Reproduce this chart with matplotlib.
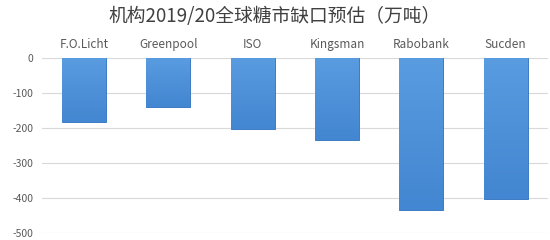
import numpy as np
import matplotlib
matplotlib.use("Agg")
import matplotlib.pyplot as plt
from matplotlib.colors import LinearSegmentedColormap

plt.rcParams['font.family'] = ['Noto Sans CJK SC', 'DejaVu Sans']

# 数据（万吨）
agencies = ['F.O.Licht', 'Greenpool', 'ISO', 'Kingsman', 'Rabobank', 'Sucden']
deficit = [-182, -141, -204, -234, -434, -403]
yticks = [0, -100, -200, -300, -400, -500]

fig = plt.figure(figsize=(5.5, 2.4), dpi=100)
ax = fig.add_axes([0.076, 0.029, 0.92, 0.729])

x = np.arange(len(agencies))
bars = ax.bar(x, deficit, width=0.52, color='#4A8FD9', edgecolor='#3C7CC4',
              linewidth=0.7, zorder=2)

# 柱子渐变（上浅下深）
cmap = LinearSegmentedColormap.from_list('blu', ['#4386D1', '#5A9CE0'])
grad = np.linspace(0, 1, 256).reshape(-1, 1)
for b in bars:
    x0, y0 = b.get_x(), b.get_y()
    w, h = b.get_width(), b.get_height()
    im = ax.imshow(grad, cmap=cmap, aspect='auto', zorder=3,
                   extent=[x0, x0 + w, y0 + h, y0], origin='lower')
    im.set_clip_path(b)

ax.set_xlim(-0.5, len(agencies) - 0.5)
ax.set_ylim(-500, 0)
ax.set_yticks(yticks)
ax.set_yticklabels([str(v) for v in yticks], fontsize=7.5, color='#595959')
ax.xaxis.tick_top()
ax.set_xticks(x)
ax.set_xticklabels(agencies, fontsize=8.5, color='#595959')
ax.tick_params(axis='both', length=0)
ax.tick_params(axis='x', pad=5)
ax.tick_params(axis='y', pad=6)
ax.grid(axis='y', color='#D9D9D9', linewidth=0.8, zorder=0)
for s in ax.spines.values():
    s.set_visible(False)
ax.set_axisbelow(True)

fig.text(0.5, 0.93, '机构2019/20全球糖市缺口预估（万吨）', ha='center', va='center',
         fontsize=13.5, color='#404040')

fig.savefig('out.png', dpi=100)
